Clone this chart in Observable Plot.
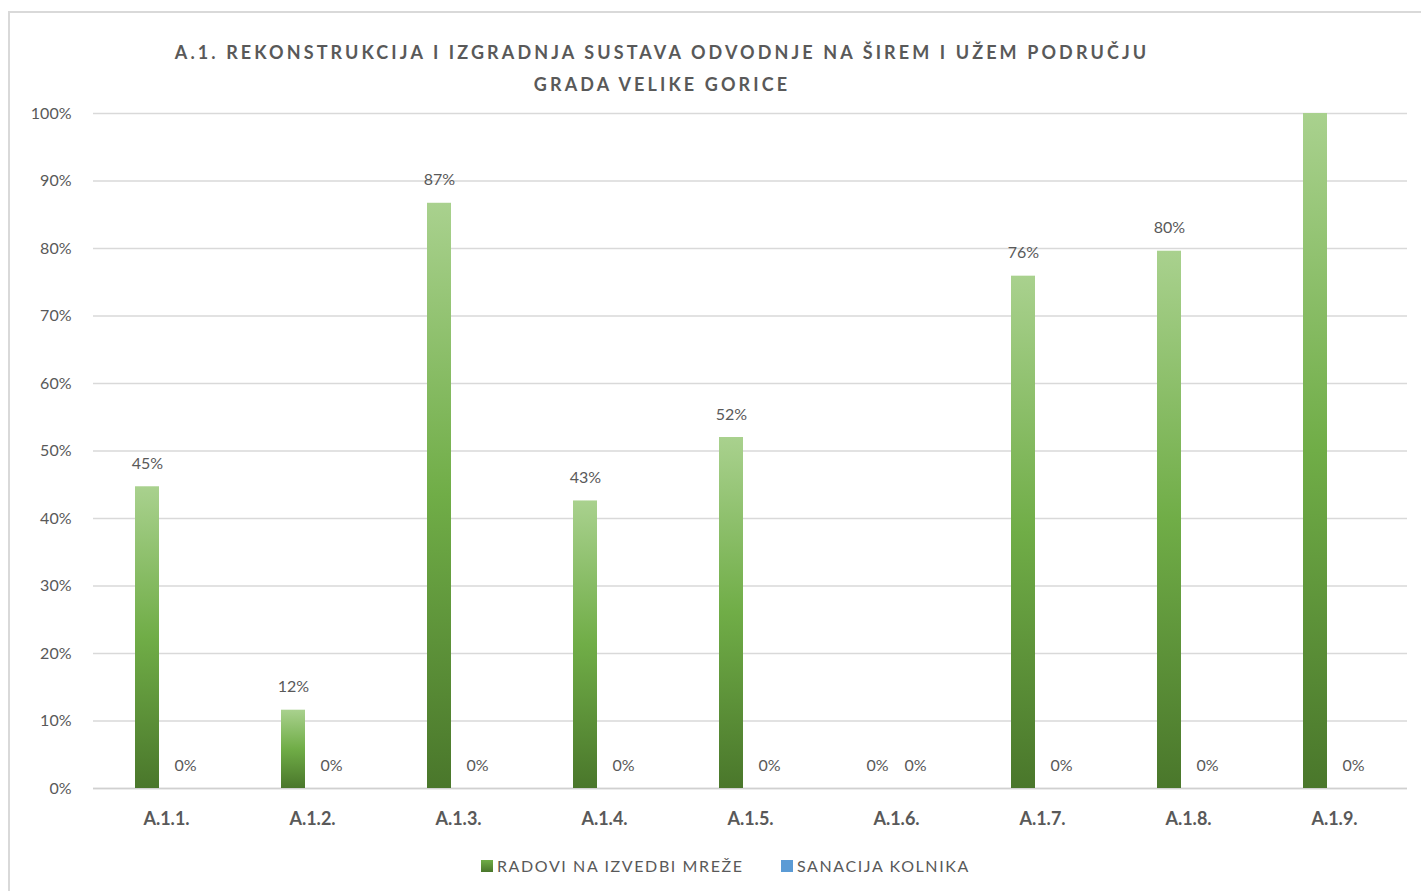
<!DOCTYPE html>
<html>
<head>
<meta charset="utf-8">
<script src="https://cdn.jsdelivr.net/npm/d3@7"></script>
<script src="https://cdn.jsdelivr.net/npm/@observablehq/plot@0.6"></script>
<style>
  html, body { margin: 0; padding: 0; background: #fff; }
  body { width: 1421px; height: 891px; position: relative; overflow: hidden; font-family: Lato, "Open Sans", sans-serif; }
  #frame { position: absolute; left: 8px; top: 11px; width: 1440px; height: 900px; border-left: 2px solid #d9d9d9; border-top: 2px solid #d9d9d9; }
  #title { position: absolute; left: 3px; width: 1318px; top: 36px; text-align: center; color: #595959; font-weight: bold; font-size: 18px; letter-spacing: 3.1px; line-height: 32px; }
  #chart { position: absolute; left: 0; top: 0; }
  #legend { position: absolute; top: 856px; left: 0; width: 1421px; color: #595959; font-size: 16px; letter-spacing: 1.6px; }
  .li { position: absolute; display: flex; align-items: center; white-space: nowrap; }
  .sw { width: 12px; height: 12px; margin-right: 4px; }
</style>
</head>
<body>
<svg width="0" height="0" style="position:absolute">
  <defs>
    <linearGradient id="grad" x1="0" y1="0" x2="0" y2="1">
      <stop offset="0%" stop-color="#a9d18e"/>
      <stop offset="50%" stop-color="#70ad47"/>
      <stop offset="100%" stop-color="#4a772b"/>
    </linearGradient>
  </defs>
</svg>
<div id="frame"></div>
<div id="title"></div>
<div id="chart"></div>
<div id="legend"></div>
<script>
const titleLines = ["A.1. REKONSTRUKCIJA I IZGRADNJA SUSTAVA ODVODNJE NA ŠIREM I UŽEM PODRUČJU", "GRADA VELIKE GORICE"];
const categories = ["A.1.1.", "A.1.2.", "A.1.3.", "A.1.4.", "A.1.5.", "A.1.6.", "A.1.7.", "A.1.8.", "A.1.9."];
const series = ["RADOVI NA IZVEDBI MREŽE", "SANACIJA KOLNIKA"];
const radovi = [44.7, 11.6, 86.7, 42.6, 52.0, 0, 75.9, 79.6, 100];
const sanacija = [0, 0, 0, 0, 0, 0, 0, 0, 0];
const yTicks = [0, 10, 20, 30, 40, 50, 60, 70, 80, 90, 100];
const seriesColors = ["url(#grad)", "#5b9bd5"];

document.getElementById("title").innerHTML = titleLines.join("<br>");

const data = categories.flatMap((c, i) => [
  {cat: c, s: series[0], v: radovi[i]},
  {cat: c, s: series[1], v: sanacija[i]}
]);

const chart = Plot.plot({
  width: 1421,
  height: 850,
  marginLeft: 91,
  marginRight: 13,
  marginTop: 113,
  marginBottom: 62,
  style: {fontFamily: "Lato, 'Open Sans', sans-serif", color: "#595959", background: "transparent"},
  fx: {domain: categories, padding: 0, label: null},
  x: {domain: series, paddingInner: 0.37, paddingOuter: 1.1, axis: null},
  y: {domain: [0, 100], label: null},
  marks: [
    Plot.gridY(yTicks, {stroke: "#d9d9d9", strokeOpacity: 1, strokeWidth: 1.3}),
    Plot.axisY(yTicks, {tickSize: 0, tickPadding: 22, tickFormat: d => d + "%", fontSize: 16, letterSpacing: 1, fill: "#595959", label: null}),
    Plot.axisFx({anchor: "bottom", tickSize: 0, tickPadding: 24, fontSize: 18, letterSpacing: 1.5, fontWeight: "bold", fill: "#595959", label: null}),
    Plot.ruleY([0], {stroke: "#d0d0d0", strokeWidth: 1.3}),
    Plot.barY(data.filter(d => d.s === series[0]), {fx: "cat", x: "s", y: "v", fill: seriesColors[0]}),
    Plot.barY(data.filter(d => d.s === series[1]), {fx: "cat", x: "s", y: "v", fill: seriesColors[1]}),
    Plot.text(data.filter(d => d.v < 100), {fx: "cat", x: "s", y: "v", text: d => Math.round(d.v) + "%", dy: -23, fontSize: 16, letterSpacing: 0.6, fill: "#595959"})
  ]
});
document.getElementById("chart").appendChild(chart);

const legend = document.getElementById("legend");
const legendX = [481, 781];
series.forEach((s, i) => {
  const item = document.createElement("div");
  item.className = "li";
  item.style.left = legendX[i] + "px";
  const sw = document.createElement("div");
  sw.className = "sw";
  sw.style.background = i === 0 ? "linear-gradient(#70ad47, #4a772b)" : seriesColors[1];
  const t = document.createElement("span");
  t.textContent = s;
  item.appendChild(sw);
  item.appendChild(t);
  legend.appendChild(item);
});
</script>
</body>
</html>
